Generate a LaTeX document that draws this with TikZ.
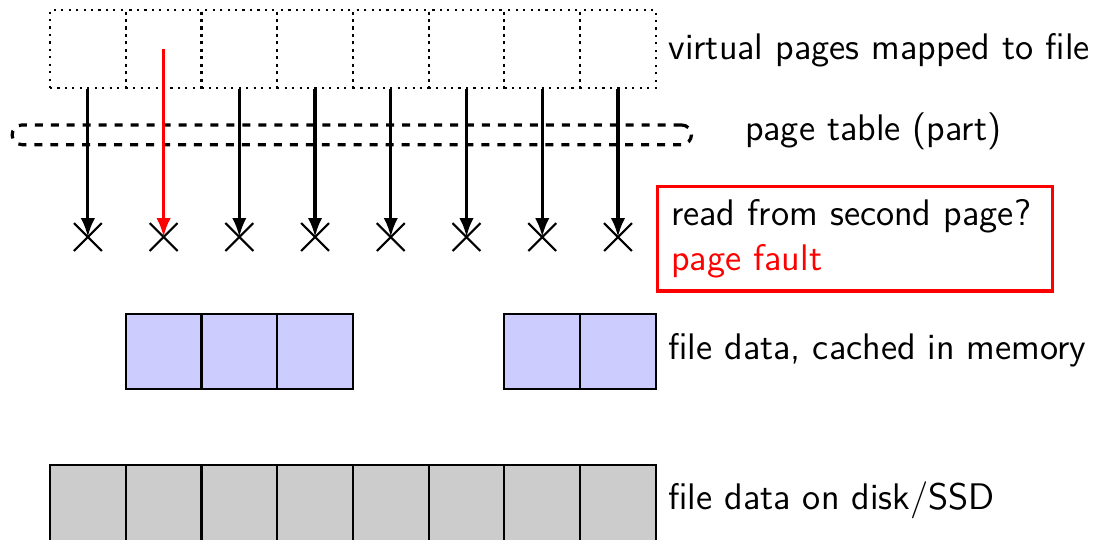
\documentclass[tikz,border=0pt]{standalone}
\usetikzlibrary{arrows.meta,shapes.misc}
\tikzset{
  vpage/.style={draw,dotted,thick,minimum width=1cm,minimum height=1.03cm,inner sep=0pt},
  mempage/.style={draw,thick,fill=blue!20,minimum width=1cm,minimum height=0.99cm,inner sep=0pt},
  diskpage/.style={draw,thick,fill=black!20,minimum width=1cm,minimum height=1.03cm,inner sep=0pt},
  nomap/.style={cross out,draw,thick,minimum size=0.34cm,inner sep=0pt},
  lbl/.style={anchor=west,inner sep=0pt,font=\sffamily\fontsize{13.9pt}{16pt}\selectfont},
}
\begin{document}
\begin{tikzpicture}[>={Latex[length=0.25cm,width=0.19cm]}]
      \useasboundingbox (-0.66,-7.13) rectangle (13.97,0);
      % virtual pages
      \foreach \i in {1,...,8} {
        \node[vpage] (v\i) at (\i-0.5,-0.647) {};
        \node[nomap] (x\i) at (\i-0.5,-3.13) {};
      }
      \node[lbl] (vlbl) at (8.16,-0.66) {virtual pages mapped to file};
      % page table
      \node[draw,dashed,very thick,rounded corners=0.13cm,minimum width=8.97cm,minimum height=0.26cm,inner sep=0pt] (ptable) at (3.985,-1.78) {};
      \node[lbl] (ptlbl) at (9.17,-1.73) {page table (part)};
      \begin{scope}[very thick]
        \foreach \i in {1,3,4,5,6,7,8}
          \draw[->] (v\i.south) -- (x\i.center);
        \draw[->,red] (v2.center) -- (x2.center);
      \end{scope}
      \node[draw=red,very thick,anchor=north west,align=left,text width=4.86cm,inner xsep=0.18cm,inner ysep=0.17cm,
            font=\sffamily\fontsize{13.9pt}{17pt}\selectfont] (fault) at (8.0,-2.44)
            {read from second page?\\\textcolor{red}{page fault}};
      % memory
      \foreach \i in {2,3,4,7,8}
        \node[mempage] (m\i) at (\i-0.5,-4.64) {};
      \node[lbl] (mlbl) at (8.16,-4.63) {file data, cached in memory};
      % disk
      \foreach \i in {1,...,8}
        \node[diskpage] (d\i) at (\i-0.5,-6.655) {};
      \node[lbl] (dlbl) at (8.16,-6.60) {file data on disk/SSD};
    \end{tikzpicture}
\end{document}
